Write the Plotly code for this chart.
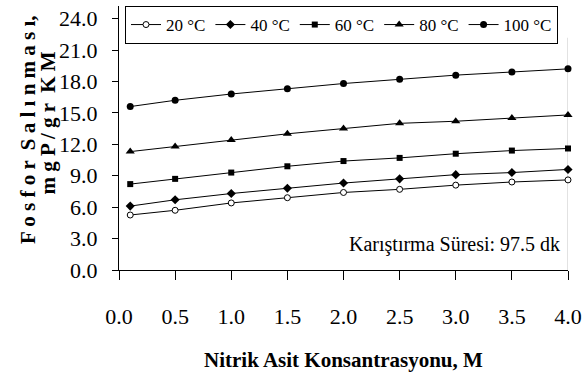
import plotly.graph_objects as go

x_vals = [0.1, 0.5, 1.0, 1.5, 2.0, 2.5, 3.0, 3.5, 4.0]
series_names = ["20 °C", "40 °C", "60 °C", "80 °C", "100 °C"]
y_20 = [5.25, 5.7, 6.4, 6.9, 7.4, 7.7, 8.1, 8.4, 8.6]
y_40 = [6.1, 6.7, 7.3, 7.8, 8.3, 8.7, 9.1, 9.3, 9.6]
y_60 = [8.2, 8.7, 9.3, 9.9, 10.4, 10.7, 11.1, 11.4, 11.6]
y_80 = [11.3, 11.8, 12.4, 13.0, 13.5, 14.0, 14.2, 14.5, 14.8]
y_100 = [15.6, 16.2, 16.8, 17.3, 17.8, 18.2, 18.6, 18.9, 19.2]
x_ticks = [0.0, 0.5, 1.0, 1.5, 2.0, 2.5, 3.0, 3.5, 4.0]
y_ticks = [0, 3, 6, 9, 12, 15, 18, 21, 24]

FONT = "Liberation Serif, Times New Roman, serif"

styles = [
    dict(symbol="circle", size=6, color="white", line=dict(color="black", width=1)),
    dict(symbol="diamond", size=7, color="black", line=dict(color="black", width=0)),
    dict(symbol="square", size=6, color="black", line=dict(color="black", width=0)),
    dict(symbol="triangle-up", size=8, color="black", line=dict(color="black", width=0)),
    dict(symbol="circle", size=7, color="black", line=dict(color="black", width=0)),
]

fig = go.Figure()
for name, ys, st in zip(series_names, [y_20, y_40, y_60, y_80, y_100], styles):
    fig.add_trace(go.Scatter(
        x=x_vals, y=ys, name=name, mode="lines+markers",
        line=dict(color="black", width=1),
        marker=st, cliponaxis=False,
    ))

PLOT_W = 586 - 119  # layout plot width (right margin 0)
AXIS_W = 449        # visible x-axis length

fig.update_layout(
    width=586, height=383,
    margin=dict(l=119, r=0, t=6, b=113, autoexpand=False),
    paper_bgcolor="white", plot_bgcolor="rgba(0,0,0,0)",
    font=dict(family=FONT, color="black", size=20),
    showlegend=True,
    legend=dict(
        orientation="h", x=6 / PLOT_W, y=1.0, xanchor="left", yanchor="top",
        bgcolor="white", bordercolor="black", borderwidth=1,
        font=dict(family=FONT, size=17), itemwidth=30,
        tracegroupgap=0,
    ),
    xaxis=dict(
        domain=[0, AXIS_W / PLOT_W],
        range=[0, 4], tickvals=x_ticks, ticktext=[f"{v:.1f}" for v in x_ticks],
        showgrid=False, zeroline=False, showline=True, linecolor="black", linewidth=1,
        ticks="outside", ticklen=9, tickcolor="black", ticklabelstandoff=18,
        tickfont=dict(family=FONT, size=22),
    ),
    yaxis=dict(
        range=[0, 25.2], tickvals=y_ticks, ticktext=[f"{v:.1f}" for v in y_ticks],
        showgrid=False, zeroline=False, showline=True, linecolor="black", linewidth=1,
        ticks="outside", ticklen=6, tickcolor="black", ticklabelstandoff=10,
        tickfont=dict(family=FONT, size=22),
    ),
    shapes=[dict(type="line", xref="x", yref="paper", x0=4, x1=4, y0=0, y1=0.88,
                 line=dict(color="#d9d9d9", width=1.5), layer="below")],
    annotations=[
        dict(text="Karıştırma Süresi: 97.5 dk", xref="x", yref="y", x=3.95, y=2.4,
             xanchor="right", yanchor="middle", showarrow=False,
             font=dict(family=FONT, size=20)),
        dict(text="<b>Nitrik Asit Konsantrasyonu, M</b>", xref="x domain", yref="paper",
             x=0.5, y=0, yshift=-90, xanchor="center", yanchor="middle", showarrow=False,
             font=dict(family=FONT, size=21)),
        dict(text="<b>F o s f o r  S a l ı n m a s ı,</b>", xref="paper", yref="paper",
             x=0, xshift=-91, y=0.53, yanchor="middle", xanchor="center",
             textangle=-90, showarrow=False, font=dict(family=FONT, size=21)),
        dict(text="<b>m g P / g r  K M</b>", xref="paper", yref="paper",
             x=0, xshift=-71, y=0.555, yanchor="middle", xanchor="center",
             textangle=-90, showarrow=False, font=dict(family=FONT, size=21)),
    ],
)

fig.write_html(
    "out.html",
    config={"displayModeBar": False},
    post_script="document.body.style.margin='0';document.body.style.overflow='hidden';",
)
